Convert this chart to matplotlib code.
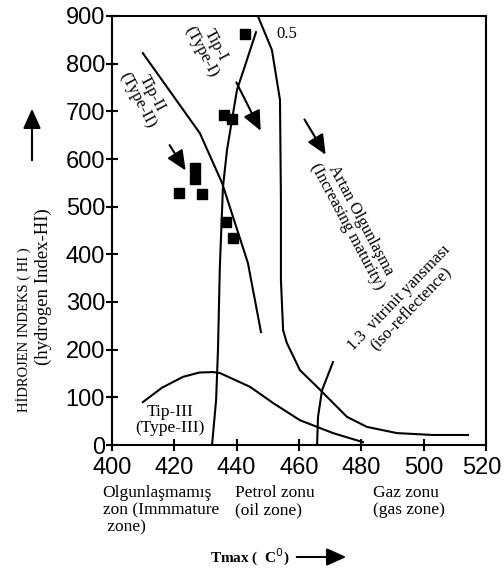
import matplotlib.pyplot as plt
from matplotlib.patches import FancyArrowPatch
from matplotlib.transforms import ScaledTranslation

# Type curves (Tmax, HI)
type1_x = [446.2, 443.3, 440.1, 436.9, 435.6, 434.6, 434.0, 433.4, 432.1]
type1_y = [866, 808, 745, 619, 541, 373, 199, 94, 0]
type2_x = [409.9, 428.2, 435.3, 443.6, 447.8]
type2_y = [822, 654, 550, 382, 237]
type3_x = [409.9, 416.0, 422.8, 428.0, 432.4, 434.6, 444.3, 451.7, 460.3, 465.8, 470.9, 480.5]
type3_y = [90, 120, 143, 152, 153, 151, 122, 88, 52, 38, 25, 6]

# iso-reflectance lines
iso05_x = [446.8, 451.3, 453.9, 454.2, 454.2, 454.9, 456.1, 460.3, 465.8, 475.4, 481.8, 491.4, 503.0, 514.2]
iso05_y = [900, 829, 724, 514, 346, 241, 214, 157, 122, 59, 38, 25, 21, 21]
iso13_x = [470.9, 467.4, 466.1, 465.8]
iso13_y = [174, 115, 59, 0]

# samples
sample_tmax = [442.7, 435.9, 438.5, 426.6, 426.6, 421.5, 428.9, 436.6, 438.8]
sample_hi = [862, 692, 684, 581, 558, 529, 527, 468, 434]

plt.rcParams['font.family'] = ['Liberation Serif', 'DejaVu Serif']
fig = plt.figure(figsize=(5.04, 5.72), dpi=100)
ax = fig.add_axes([112/504, 1-445/572, 374/504, 429/572])

lw = 1.5
ax.plot(type1_x, type1_y, color='black', lw=lw)
ax.plot(type2_x, type2_y, color='black', lw=lw)
ax.plot(type3_x, type3_y, color='black', lw=lw)
ax.plot(iso05_x, iso05_y, color='black', lw=lw)
ax.plot(iso13_x, iso13_y, color='black', lw=lw)
ax.plot(sample_tmax, sample_hi, 's', color='black', markersize=6.5, clip_on=False)

head = '-|>,head_length=1.0,head_width=0.45'
arrow = dict(arrowstyle=head, color='black', lw=1.5, mutation_scale=12)
ax.annotate('', xy=(424.1, 571), xytext=(418, 634), arrowprops=arrow)
ax.annotate('', xy=(448.1, 654), xytext=(439.5, 766), arrowprops=arrow)
ax.annotate('', xy=(469, 604), xytext=(461.3, 688), arrowprops=arrow)

ax.text(431.0, 832, 'Tip-I\n(Type-I)', rotation=-62, ha='center', va='center', fontsize=12, linespacing=0.95)
ax.text(410.5, 730, 'Tip-II\n(Type-II)', rotation=-62, ha='center', va='center', fontsize=12, linespacing=0.95)
ax.text(456.0, 863, '0.5', ha='center', va='center', fontsize=12)
ax.text(477.5, 465, 'Artan Olgunlaşma\n(Increasing maturity)', rotation=-62, ha='center', va='center',
        fontsize=12, linespacing=0.95)
ax.text(494.0, 298, '1.3  vitrinit yansması\n(iso-reflectence)', rotation=46, ha='center', va='center',
        fontsize=12, linespacing=0.95)
ax.text(418.6, 52, 'Tip-III\n(Type-III)', ha='center', va='center', fontsize=12.5, linespacing=1.0)

ax.set_xlim(400, 520)
ax.set_ylim(0, 900)
ax.set_xticks(range(400, 521, 20))
ax.set_yticks(range(0, 901, 100))
for s in ax.spines.values():
    s.set_linewidth(1.5)
ax.tick_params(direction='inout', length=8, width=1.5)
for lab in ax.get_xticklabels() + ax.get_yticklabels():
    lab.set_family('Liberation Sans')
    lab.set_fontsize(17)
ax.tick_params(axis='x', pad=5)
ax.tick_params(axis='y', pad=1)
# nudge the last x label so it stays inside the figure
last = ax.get_xticklabels()[-1]
last.set_transform(last.get_transform() + ScaledTranslation(-4/100, 0, fig.dpi_scale_trans))

# zone labels below the x axis
ax.text(397, -84, 'Olgunlaşmamış\nzon (Immmature\n zone)', ha='left', va='top', fontsize=12.5,
        linespacing=1.1, clip_on=False)
ax.text(439.5, -84, 'Petrol zonu\n(oil zone)', ha='left', va='top', fontsize=12.5,
        linespacing=1.1, clip_on=False)
ax.text(483.7, -84, 'Gaz zonu\n(gas zone)', ha='left', va='top', fontsize=12.5,
        linespacing=1.1, clip_on=False)

# axis titles with arrows
fig.text(250/504, 1-557/572, 'Tmax (  C$^0$)', ha='center', va='center', fontsize=11, fontweight='bold')
fig.patches.append(FancyArrowPatch((294/504, 1-557/572), (349/504, 1-557/572), transform=fig.transFigure,
                                   arrowstyle=head, color='black', lw=1.5, mutation_scale=12))

fig.text(23/504, 1-330/572, 'HİDROJEN INDEKS ( HI )', rotation=90, ha='center', va='center', fontsize=10.5)
fig.text(43/504, 1-287/572, '(hydrogen Index-HI)', rotation=90, ha='center', va='center', fontsize=13.5)
fig.patches.append(FancyArrowPatch((32/504, 1-163/572), (32/504, 1-106/572), transform=fig.transFigure,
                                   arrowstyle=head, color='black', lw=1.5, mutation_scale=12))

fig.savefig('out.png', dpi=100)
